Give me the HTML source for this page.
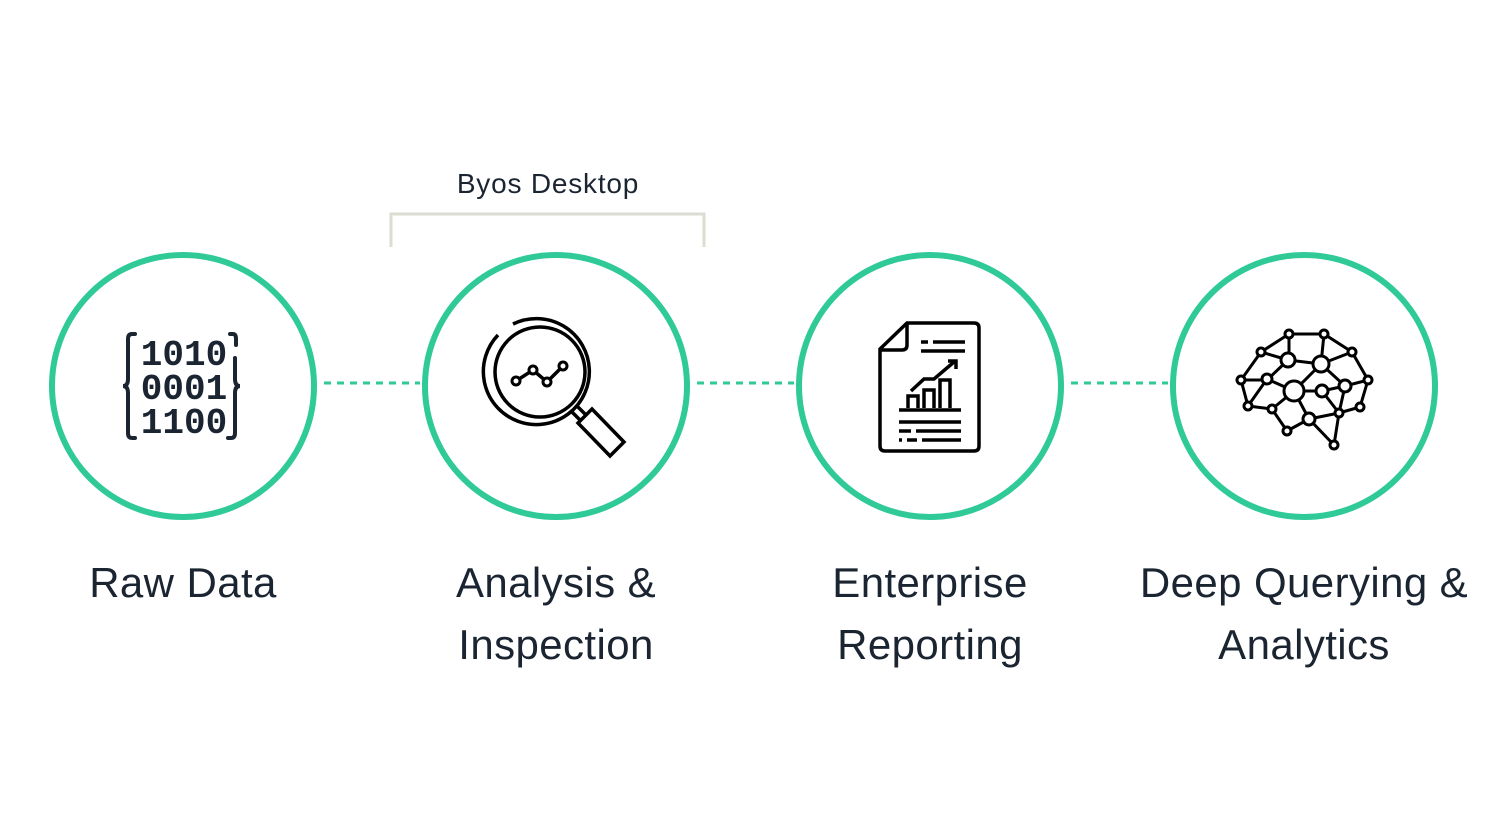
<!DOCTYPE html>
<html><head><meta charset="utf-8"><style>
body{margin:0;background:#fff;width:1496px;height:840px;overflow:hidden;font-family:"Liberation Sans",sans-serif}
.l{position:absolute;width:500px;text-align:center;font-size:42px;letter-spacing:0.4px;line-height:62px;color:#1b2532}
</style></head><body>
<svg width="1496" height="840" style="position:absolute;left:0;top:0">
<g fill="none" stroke="#2fca98" stroke-width="6">
<circle cx="183" cy="386" r="131"/><circle cx="556" cy="386" r="131"/><circle cx="930" cy="386" r="131"/><circle cx="1304" cy="386" r="131"/>
</g>
<g stroke="#2fca98" stroke-width="3" stroke-dasharray="7 6">
<line x1="324" y1="383" x2="420" y2="383"/><line x1="697" y1="383" x2="794" y2="383"/><line x1="1071" y1="383" x2="1168" y2="383"/>
</g>
<path d="M391 247V214H704V247" fill="none" stroke="#dcdcd2" stroke-width="3"/>
<text x="548" y="193" text-anchor="middle" font-size="28" letter-spacing="0.8" fill="#1b2532" font-family="Liberation Sans,sans-serif">Byos Desktop</text>
<!-- binary -->
<g fill="#1b2532" font-family="Liberation Mono,monospace" font-weight="bold" font-size="36" text-anchor="middle">
<text x="184" y="365">1010</text><text x="184" y="399">0001</text><text x="184" y="433">1100</text></g>
<g fill="none" stroke="#1b2532" stroke-width="4" stroke-linecap="round">
<path d="M135 334h-3q-4 0-4 5v40q0 7-5 7q5 0 5 7v40q0 5 4 5h3"/>
<path d="M230 334h3q3 0 3 5v6M235 358v21q0 7 5 7q-5 0-5 7v40q0 5-4 5h-3"/>
</g>
<!-- magnifier -->
<g fill="none" stroke="#000" stroke-width="3.5">
<path d="M498 335A53 53 0 1 0 513 324"/>
<circle cx="540" cy="372" r="45"/>
<path d="M577 406l9 9M572 412l9 9M578 423l14-14l32 33l-14 14z"/>
<polyline points="516,381 533,370 547,382 563,366"/>
</g>
<g fill="#fff" stroke="#000" stroke-width="3"><circle cx="516" cy="381" r="4"/><circle cx="533" cy="370" r="4"/><circle cx="547" cy="382" r="4"/><circle cx="563" cy="366" r="4"/></g>
<!-- document -->
<g fill="none" stroke="#000" stroke-width="3.5">
<path d="M907 323h67q5 0 5 5v118q0 5-5 5h-89q-5 0-5-5v-97z"/><path d="M907 323v22q0 5-5 5h-22"/>
<path d="M921 342h7M933 342h32M921 351h44M911 391l13-12h10l20-17M948 361h8v8"/>
<path d="M908 408v-12h10v12M924 408v-18h10v18M940 408v-28h10v28M899 410h62M899 422h62M899 431h12M916 431h45M899 440h3M907 440h10M922 440h39"/>
</g>
<!-- brain -->
<g stroke="#000" stroke-width="3" fill="none">
<path d="M1289 334H1324L1352 352L1368 380L1360 407L1339 413L1334 445L1309 419L1287 431L1272 409L1248 406L1241 380L1261 352L1289 334M1289 334V360M1324 334L1321 364M1261 352L1288 360L1321 364L1352 352M1241 380H1267L1288 360M1267 379L1294 391L1272 409M1267 379L1248 406M1321 364L1294 391L1322 391L1345 386L1321 364M1345 386L1368 380M1345 386L1339 413L1360 407M1322 391L1339 413L1309 419L1294 391M1309 419L1287 431"/>
</g>
<g fill="#fff" stroke="#000" stroke-width="3">
<circle cx="1289" cy="334" r="4"/><circle cx="1324" cy="334" r="4"/><circle cx="1261" cy="352" r="4"/><circle cx="1352" cy="352" r="4"/>
<circle cx="1288" cy="360" r="7"/><circle cx="1321" cy="364" r="8"/><circle cx="1241" cy="380" r="4"/><circle cx="1267" cy="379" r="5"/>
<circle cx="1294" cy="391" r="10"/><circle cx="1322" cy="391" r="6"/><circle cx="1345" cy="386" r="6"/><circle cx="1368" cy="380" r="4"/>
<circle cx="1248" cy="406" r="4"/><circle cx="1272" cy="409" r="4"/><circle cx="1309" cy="419" r="6"/><circle cx="1339" cy="413" r="4"/>
<circle cx="1360" cy="407" r="4"/><circle cx="1287" cy="431" r="4"/><circle cx="1334" cy="445" r="4"/>
</g>
</svg>
<div class="l" style="left:-67px;top:552px">Raw Data</div>
<div class="l" style="left:306px;top:552px">Analysis &amp;<br>Inspection</div>
<div class="l" style="left:680px;top:552px">Enterprise<br>Reporting</div>
<div class="l" style="left:1054px;top:552px">Deep Querying &amp;<br>Analytics</div>
</body></html>
